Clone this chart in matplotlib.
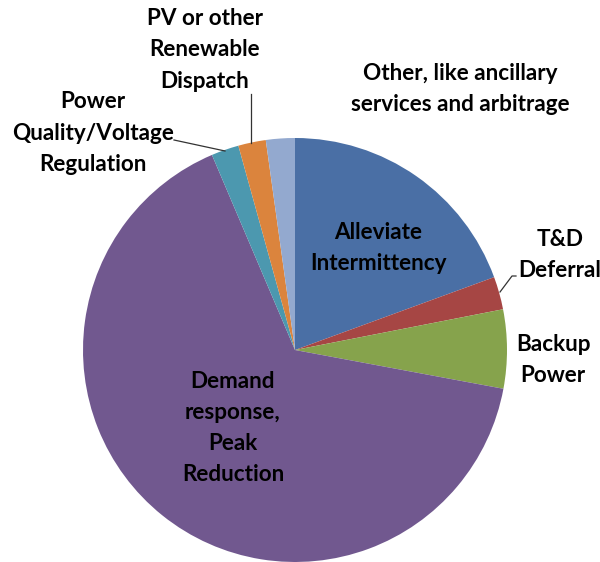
import matplotlib
matplotlib.use("Agg")
import matplotlib.pyplot as plt

# slices clockwise from 12 o'clock (percent)
labels = ["Alleviate\nIntermittency", "T&D\nDeferral", "Backup\nPower",
          "Demand\nresponse,\nPeak\nReduction", "Power\nQuality/Voltage\nRegulation",
          "PV or other\nRenewable\nDispatch", "Other, like ancillary\nservices and arbitrage"]
shares = [19.4, 2.5, 6.0, 65.6, 2.1, 2.1, 2.2]
colors = ["#4A6FA5", "#A64644", "#86A34C", "#71588F", "#4C98AF", "#DB843D", "#93A9CF"]

# label centres in pixels (x, y from top)
label_pos = [(378, 248), (560, 255), (553, 360), (233, 428),
             (93, 133), (205, 50), (460, 89)]

W, H = 600, 562
fig = plt.figure(figsize=(6.0, 5.62), dpi=100)
ax = fig.add_axes([0, 0, 1, 1])

ax.pie(shares, colors=colors, startangle=90, counterclock=False,
       center=(295, H - 350), radius=212, frame=True,
       wedgeprops=dict(linewidth=0))
ax.set_xlim(0, W)
ax.set_ylim(0, H)
ax.set_aspect("equal")
ax.axis("off")

for lab, (px, py) in zip(labels, label_pos):
    ax.text(px, H - py, lab, ha="center", va="center", fontsize=16.2,
            fontfamily="Lato", fontweight="bold", color="#000000",
            linespacing=1.6)

# leader lines
ax.plot([251, 251], [H - 94, H - 143], color="#333333", lw=0.9)
ax.plot([174, 225], [H - 140, H - 151], color="#333333", lw=0.9)
ax.plot([516, 512, 500], [H - 276, H - 276, H - 292], color="#333333", lw=0.9)

fig.savefig("out.png", dpi=100)
